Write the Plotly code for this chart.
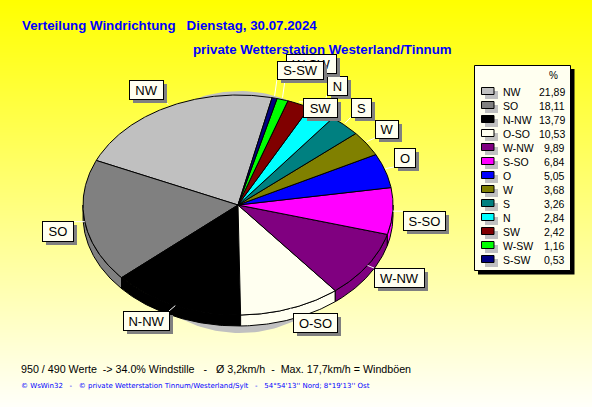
import numpy as np
import plotly.graph_objects as go

# ---- data ----
directions = ["NW", "SO", "N-NW", "O-SO", "W-NW", "S-SO", "O", "W", "S", "N", "SW", "W-SW", "S-SW"]
percent = [21.89, 18.11, 13.79, 10.53, 9.89, 6.84, 5.05, 3.68, 3.26, 2.84, 2.42, 1.16, 0.53]
percent_text = ["21,89", "18,11", "13,79", "10,53", "9,89", "6,84", "5,05", "3,68", "3,26", "2,84", "2,42", "1,16", "0,53"]

# ---- style ----
colors = ["#C0C0C0", "#808080", "#000000", "#FFFFF0", "#800080", "#FF00FF", "#0000FF",
          "#808000", "#008080", "#00FFFF", "#800000", "#00FF00", "#000080"]
W, H = 592, 407
CX, CY, RX, RY, DEPTH = 238.0, 205.0, 155.0, 110.0, 11.0
START = -12.7  # degrees, counter-clockwise from the top
FONT = "Liberation Sans"
BOX = "#FFFFF0"
SHADOW = "#808080"

label_boxes = {
    "NW": (129, 80, 163, 99), "SO": (42, 221, 73, 241), "N-NW": (123, 311, 169, 330),
    "O-SO": (293, 313, 337, 332), "W-NW": (374, 268, 424, 287), "S-SO": (403, 211, 445, 230),
    "O": (394, 148, 415, 167), "W": (375, 120, 398, 138), "S": (351, 98, 371, 117),
    "N": (327, 76, 347, 95), "SW": (303, 98, 337, 117), "W-SW": (286, 54, 336, 73),
    "S-SW": (277, 61, 323, 79),
}


def ellipse(a, dy=0.0):
    r = np.radians(a)
    return CX - RX * np.sin(r), CY - RY * np.cos(r) + dy


fig = go.Figure()

# background gradient
fig.add_trace(go.Heatmap(x=[0, W], y=[0, H], z=[[0, 0], [1, 1]], zsmooth="best", showscale=False,
                         colorscale=[[0, "#FFFF00"], [1, "#FFFFFA"]], hoverinfo="skip"))

# soft shadow of the pie
t = np.linspace(0, 2 * np.pi, 200)
fig.add_trace(go.Scatter(x=240 + 125 * np.cos(t), y=212 + 121 * np.sin(t), mode="lines", fill="toself",
                         fillcolor="#C0C0C0", line=dict(width=0), hoverinfo="skip"))

edges = START + np.concatenate([[0], np.cumsum(percent)]) * 360.0 / sum(percent)

# front wall
for i, c in enumerate(colors):
    lo, hi = max(edges[i], 90), min(edges[i + 1], 270)
    if hi <= lo:
        continue
    a = np.linspace(lo, hi, 60)
    x, y = ellipse(a)
    x2, y2 = ellipse(a, DEPTH)
    fig.add_trace(go.Scatter(x=np.r_[x, x2[::-1], x[0]], y=np.r_[y, y2[::-1], y[0]], mode="lines", fill="toself",
                             fillcolor=c, line=dict(color="#000000", width=1), hoverinfo="skip"))

# top face
for i, c in enumerate(colors):
    a = np.linspace(edges[i], edges[i + 1], max(4, int(edges[i + 1] - edges[i]) * 2))
    x, y = ellipse(a)
    fig.add_trace(go.Scatter(x=np.r_[CX, x, CX], y=np.r_[CY, y, CY], mode="lines", fill="toself",
                             fillcolor=c, line=dict(color="#000000", width=1), hoverinfo="skip"))

shapes, ann = [], []


def rect(x0, y0, x1, y1, fill, line=None, lw=1):
    shapes.append(dict(type="rect", x0=x0, y0=y0, x1=x1, y1=y1, fillcolor=fill,
                       line=dict(color=line or fill, width=lw if line else 0)))


def text(x, y, s, size=12, color="#000000", anchor="left", bold=False, family=FONT):
    ann.append(dict(x=x, y=y, text=f"<b>{s}</b>" if bold else s, showarrow=False, xanchor=anchor, yanchor="middle",
                    font=dict(family=family, size=size, color=color), borderpad=0))


# labels and leader lines, in the reference's drawing order; boxes are annotations so later ones cover earlier ones
order = ["NW", "SO", "N-NW", "O-SO", "W-NW", "S-SO", "O", "W", "S", "N", "SW", "W-SW", "S-SW"]
for name in order:
    i = directions.index(name)
    x0, y0, x1, y1 = label_boxes[name]
    mid = (edges[i] + edges[i + 1]) / 2
    px, py = ellipse(mid, -2 if not 90 < mid < 270 else 0)
    shapes.append(dict(type="line", x0=float(px), y0=float(py), x1=float(np.clip(px, x0, x1)),
                       y1=float(np.clip(py, y0, y1)), line=dict(color="#FFFFFF", width=1)))
    cx, cy = (x0 + x1) / 2, (y0 + y1) / 2
    ann.append(dict(x=cx + 3.5, y=cy + 3.5, text=" ", showarrow=False, xanchor="center", yanchor="middle",
                    width=x1 - x0, height=y1 - y0, bgcolor=SHADOW, borderpad=0, borderwidth=0))
    ann.append(dict(x=cx, y=cy, text=name, showarrow=False, xanchor="center", yanchor="middle", align="center",
                    valign="middle", width=x1 - x0 - 1, height=y1 - y0 - 1, bgcolor=BOX, bordercolor="#000000",
                    borderwidth=1, borderpad=0, font=dict(family=FONT, size=13, color="#000000")))

# legend
rect(478, 69, 574.5, 274.5, "#000000")
rect(474.5, 65.5, 570.5, 270.5, BOX, "#000000", 1)
text(553, 75, "%", size=10, anchor="center")
for i, name in enumerate(directions):
    y = 91 + 14 * i
    rect(485, y, 498, y + 8, "#C0C0C0")
    rect(481.5, y - 3.5, 494, y + 3.5, colors[i], "#000000", 1)
    text(502, y + 0.5, name, size=10.5)
    text(566, y + 0.5, percent_text[i], size=10.5, anchor="right")

# titles and footers
text(20.5, 25, "Verteilung Windrichtung \u00a0 Dienstag, 30.07.2024", size=13.3, color="#0000FF", bold=True)
text(191.5, 49, "private Wetterstation Westerland/Tinnum", size=13.3, color="#0000FF", bold=True)
text(20, 369, "950 / 490 Werte \u00a0-&gt; 34.0% Windstille \u00a0 - \u00a0 \u00d8 3,2km/h \u00a0- \u00a0Max. 17,7km/h = Windb\u00f6en", size=10.7)
text(20, 386, "\u00a9 WsWin32 \u00a0 - \u00a0 \u00a9 private Wetterstation Tinnum/Westerland/Sylt \u00a0 - \u00a0 54\u00b054'13'' Nord; 8\u00b019'13'' Ost",
     size=7, color="#0000FF", family="DejaVu Sans")

fig.update_layout(
    width=W, height=H, margin=dict(l=0, r=0, t=0, b=0), showlegend=False,
    xaxis=dict(range=[0, W], visible=False, fixedrange=True),
    yaxis=dict(range=[H, 0], visible=False, fixedrange=True),
    shapes=shapes, annotations=ann, plot_bgcolor="#FFFFFF", paper_bgcolor="#FFFFFF",
)
fig.write_html("out.html", config=dict(displayModeBar=False),
               post_script="document.body.style.margin='0';")
